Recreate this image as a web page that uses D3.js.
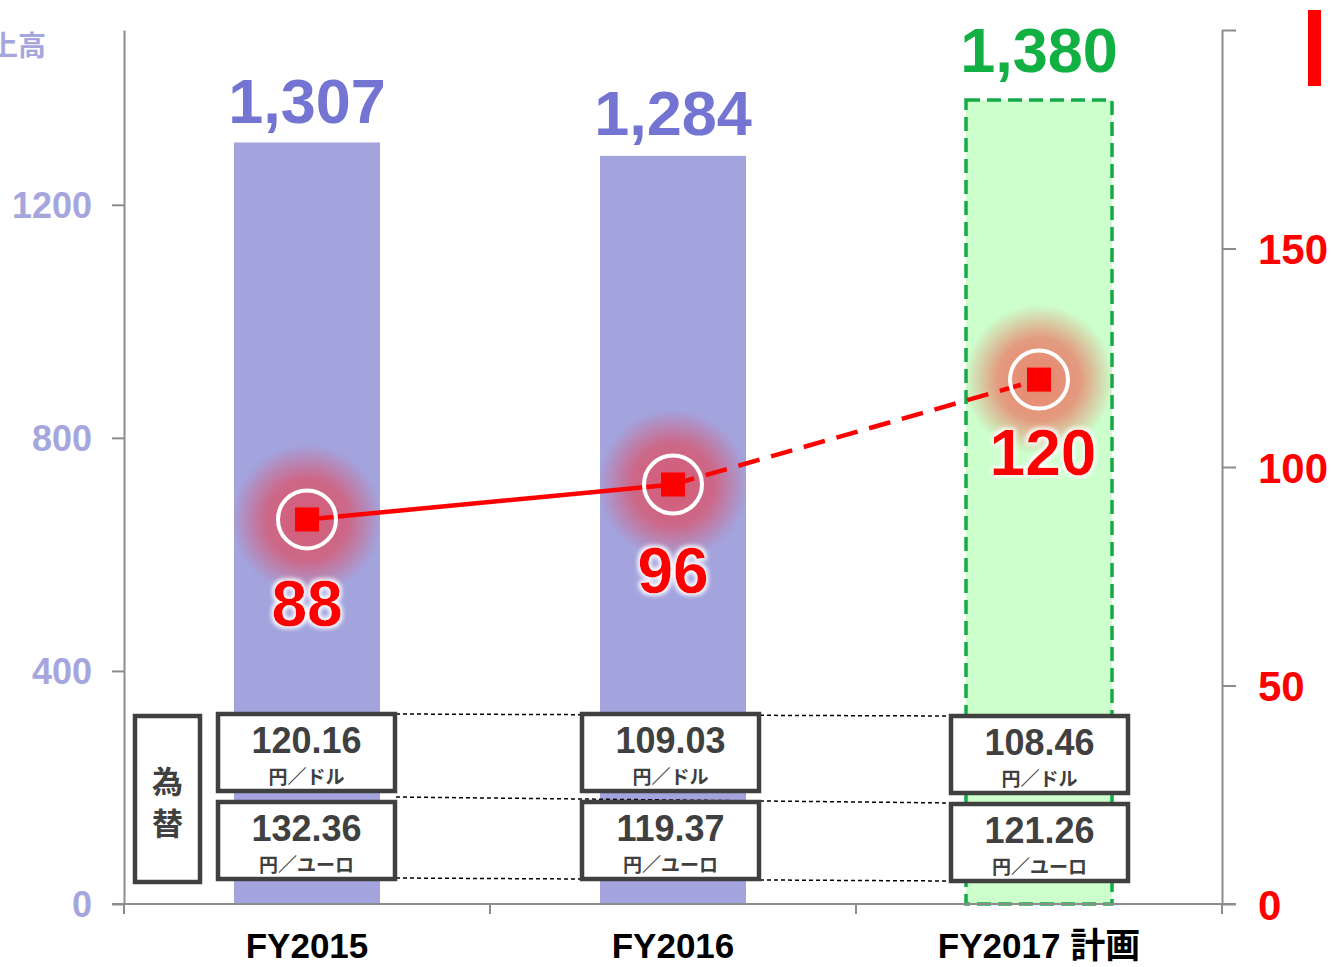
<!DOCTYPE html>
<html>
<head>
<meta charset="utf-8">
<script src="https://cdn.jsdelivr.net/npm/d3@7"></script>
<style>
  body { margin: 0; background: #fff; }
  svg { display: block; font-family: "Liberation Sans", Arial, "Noto Sans CJK JP", sans-serif; }
  .jp { font-family: "Noto Sans CJK JP", sans-serif; }
</style>
</head>
<body>
<svg></svg>
<script>
var width = 1331;
var height = 967;

// data
var years = ["FY2015", "FY2016", "FY2017 計画"];
var sales = [1307, 1284, 1380];
var salesLabels = ["1,307", "1,284", "1,380"];
var profit = [88, 96, 120];
var usdRates = ["120.16", "109.03", "108.46"];
var eurRates = ["132.36", "119.37", "121.26"];
var leftTicks = [0, 400, 800, 1200];
var rightTicks = [0, 50, 100, 150, 200];

var svg = d3.select("svg")
  .attr("width", width)
  .attr("height", height);

var defs = svg.append("defs");
var glow = defs.append("radialGradient").attr("id", "glow");
glow.append("stop").attr("offset", "0%").attr("stop-color", "#ff2020").attr("stop-opacity", 0.55);
glow.append("stop").attr("offset", "55%").attr("stop-color", "#ff2020").attr("stop-opacity", 0.45);
glow.append("stop").attr("offset", "100%").attr("stop-color", "#ff2020").attr("stop-opacity", 0);

var f = defs.append("filter").attr("id", "halo").attr("x", "-20%").attr("y", "-20%").attr("width", "140%").attr("height", "140%");
f.append("feMorphology").attr("in", "SourceAlpha").attr("operator", "dilate").attr("radius", 2).attr("result", "d");
f.append("feGaussianBlur").attr("in", "d").attr("stdDeviation", 2).attr("result", "b");
f.append("feFlood").attr("flood-color", "#fff");
f.append("feComposite").attr("in2", "b").attr("operator", "in").attr("result", "w");
var fm = f.append("feMerge");
fm.append("feMergeNode").attr("in", "w");
fm.append("feMergeNode").attr("in", "SourceGraphic");

var x = d3.scaleBand().domain(years).range([124, 1222]).paddingInner(0).paddingOuter(0);
var y = d3.scaleLinear().domain([0, 1500]).range([904, 30]);
var y2 = d3.scaleLinear().domain([0, 200]).range([904, 30]);
var barW = 146;
var cx = function(d) { return x(d) + x.bandwidth() / 2; };

// left axis
var leftAxis = svg.append("g").attr("transform", "translate(124,0)")
  .call(d3.axisLeft(y).tickValues(leftTicks).tickSize(12).tickSizeOuter(0).tickPadding(20)
    .tickFormat(d3.format("d")));
leftAxis.select(".domain").attr("stroke", "#8c8c8c").attr("stroke-width", 2);
leftAxis.selectAll(".tick line").attr("stroke", "#8c8c8c").attr("stroke-width", 2);
leftAxis.selectAll(".tick text")
  .attr("fill", "#a6a6de").style("font-size", "36px").style("font-weight", "bold")
  .attr("font-family", "Liberation Sans, Arial, sans-serif").attr("dy", "0.35em");

// right axis
var rightAxis = svg.append("g").attr("transform", "translate(1222,0)")
  .call(d3.axisRight(y2).tickValues(rightTicks).tickSize(14).tickSizeOuter(0).tickPadding(22)
    .tickFormat(function(d) { return d === 200 ? "" : d; }));
rightAxis.select(".domain").attr("stroke", "#8c8c8c").attr("stroke-width", 2);
rightAxis.selectAll(".tick line").attr("stroke", "#8c8c8c").attr("stroke-width", 2);
rightAxis.selectAll(".tick text")
  .attr("fill", "#ff0000").style("font-size", "42px").style("font-weight", "bold")
  .attr("font-family", "Liberation Sans, Arial, sans-serif").attr("dy", "0.36em");

// bars
svg.selectAll(".bar")
  .data(years.slice(0, 2))
  .enter().append("rect")
  .attr("class", "bar")
  .attr("x", function(d) { return cx(d) - barW / 2; })
  .attr("y", function(d, i) { return y(sales[i]); })
  .attr("width", barW)
  .attr("height", function(d, i) { return y(0) - y(sales[i]); })
  .attr("fill", "#a3a3de");

svg.append("rect")
  .attr("x", cx(years[2]) - barW / 2)
  .attr("y", y(sales[2]))
  .attr("width", barW)
  .attr("height", y(0) - y(sales[2]))
  .attr("fill", "#ccffcc")
  .attr("stroke", "#14aa48")
  .attr("stroke-width", 3.5)
  .attr("stroke-dasharray", "14,7");

// x axis
svg.append("line").attr("x1", 112).attr("x2", 1236).attr("y1", 904).attr("y2", 904)
  .attr("stroke", "#8c8c8c").attr("stroke-width", 2);
svg.selectAll(".xtick")
  .data([124, 490, 856, 1222])
  .enter().append("line")
  .attr("x1", function(d) { return d; }).attr("x2", function(d) { return d; })
  .attr("y1", 904).attr("y2", 914)
  .attr("stroke", "#8c8c8c").attr("stroke-width", 2);

svg.selectAll(".xlabel")
  .data(years)
  .enter().append("text")
  .attr("x", cx).attr("y", 958)
  .attr("text-anchor", "middle")
  .style("font-size", "35px").style("font-weight", "bold")
  .attr("fill", "#000")
  .text(function(d) { return d; });

// sales labels
var salesOffset = [19, 21, 28];
svg.selectAll(".slabel")
  .data(salesLabels)
  .enter().append("text")
  .attr("x", function(d, i) { return cx(years[i]); })
  .attr("y", function(d, i) { return y(sales[i]) - salesOffset[i]; })
  .attr("text-anchor", "middle")
  .style("font-size", "63px").style("font-weight", "bold")
  .attr("fill", function(d, i) { return i === 2 ? "#11b043" : "#7474d2"; })
  .text(function(d) { return d; });

// top-left axis title (clipped by the page edge, as in the original)
svg.append("text").attr("class", "jp").attr("x", 46).attr("y", 56).attr("text-anchor", "end")
  .style("font-size", "28px").style("font-weight", "bold").attr("fill", "#a6a6de")
  .text("売上高");

// red marker top right
svg.append("rect").attr("x", 1308).attr("y", 10).attr("width", 13).attr("height", 76).attr("fill", "#ff0000");

// exchange connector lines
var boxL = [218, 582, 951];
var boxW = 177;
var rowsY = [[714, 716], [797, 803], [878, 881]];
rowsY.forEach(function(r) {
  svg.append("line").attr("x1", 396).attr("x2", 951).attr("y1", r[0]).attr("y2", r[1])
    .attr("stroke", "#000").attr("stroke-width", 1.5).attr("stroke-dasharray", "4,3");
});

// glow + line
svg.selectAll(".glow")
  .data(profit)
  .enter().append("circle")
  .attr("cx", function(d, i) { return cx(years[i]); })
  .attr("cy", function(d) { return y2(d); })
  .attr("r", 75)
  .attr("fill", "url(#glow)");

svg.append("line")
  .attr("x1", cx(years[0])).attr("y1", y2(profit[0]))
  .attr("x2", cx(years[1])).attr("y2", y2(profit[1]))
  .attr("stroke", "#ff0000").attr("stroke-width", 4.5);
svg.append("line")
  .attr("x1", cx(years[1])).attr("y1", y2(profit[1]))
  .attr("x2", cx(years[2])).attr("y2", y2(profit[2]))
  .attr("stroke", "#ff0000").attr("stroke-width", 4.5).attr("stroke-dasharray", "22,12");

svg.selectAll(".ring")
  .data(profit)
  .enter().append("circle")
  .attr("cx", function(d, i) { return cx(years[i]); })
  .attr("cy", function(d) { return y2(d); })
  .attr("r", 29)
  .attr("fill", "none").attr("stroke", "#fff").attr("stroke-width", 4);

svg.selectAll(".mk")
  .data(profit)
  .enter().append("rect")
  .attr("x", function(d, i) { return cx(years[i]) - 12; })
  .attr("y", function(d) { return y2(d) - 12; })
  .attr("width", 24).attr("height", 24)
  .attr("fill", "#ff0000");

var profitOffset = [107, 109, 95];
svg.selectAll(".plabel")
  .data(profit)
  .enter().append("text")
  .attr("x", function(d, i) { return cx(years[i]) + (i === 2 ? 4 : 0); })
  .attr("y", function(d, i) { return y2(d) + profitOffset[i]; })
  .attr("text-anchor", "middle")
  .style("font-size", "64px").style("font-weight", "bold")
  .attr("fill", "#ff0000")
  .attr("filter", "url(#halo)")
  .text(function(d) { return d; });

// exchange boxes
svg.append("rect").attr("x", 135).attr("y", 716).attr("width", 65).attr("height", 166)
  .attr("fill", "#fff").attr("stroke", "#404040").attr("stroke-width", 4.5);
svg.append("text").attr("class", "jp").attr("x", 167.5).attr("y", 793).attr("text-anchor", "middle")
  .style("font-size", "31px").style("font-weight", "bold").attr("fill", "#404040").text("為");
svg.append("text").attr("class", "jp").attr("x", 167.5).attr("y", 835).attr("text-anchor", "middle")
  .style("font-size", "31px").style("font-weight", "bold").attr("fill", "#404040").text("替");

function rateBox(left, top, val, unit) {
  var g = svg.append("g");
  g.append("rect").attr("x", left).attr("y", top).attr("width", boxW).attr("height", 77)
    .attr("fill", "#fff").attr("stroke", "#404040").attr("stroke-width", 4.5);
  g.append("text").attr("x", left + boxW / 2).attr("y", top + 39).attr("text-anchor", "middle")
    .style("font-size", "36px").style("font-weight", "bold").attr("fill", "#404040").text(val);
  g.append("text").attr("class", "jp").attr("x", left + boxW / 2).attr("y", top + 70).attr("text-anchor", "middle")
    .style("font-size", "19px").style("font-weight", "bold").attr("fill", "#404040").text(unit);
}
var topsUsd = [714, 714, 716];
var topsEur = [802, 802, 804];
years.forEach(function(d, i) {
  rateBox(boxL[i], topsUsd[i], usdRates[i], "円／ドル");
  rateBox(boxL[i], topsEur[i], eurRates[i], "円／ユーロ");
});
</script>
</body>
</html>
